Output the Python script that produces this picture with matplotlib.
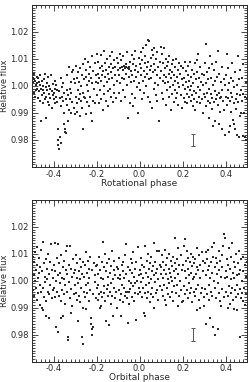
import matplotlib
matplotlib.use('Agg')
import matplotlib.pyplot as plt
from matplotlib.ticker import MultipleLocator, FormatStrFormatter

# phase of each measurement (same sampling used for both panels)
phase = [
    -0.499, -0.497, -0.495, -0.493, -0.491, -0.489, -0.487, -0.485, -0.483, -0.481, -0.479, -0.477, -0.475, -0.473, -0.471,
    -0.469, -0.467, -0.465, -0.463, -0.461, -0.459, -0.457, -0.455, -0.453, -0.451, -0.449, -0.447, -0.445, -0.443, -0.441,
    -0.439, -0.437, -0.435, -0.433, -0.431, -0.429, -0.427, -0.425, -0.423, -0.421, -0.419, -0.417, -0.415, -0.412, -0.409, -0.406, -0.403, -0.401,
    -0.399, -0.397, -0.395, -0.393, -0.391, -0.389, -0.387, -0.385, -0.383, -0.381, -0.379, -0.377, -0.375, -0.373, -0.371,
    -0.369, -0.367, -0.365, -0.363, -0.361, -0.359, -0.357, -0.355, -0.353, -0.351, -0.349, -0.347, -0.345, -0.343, -0.341,
    -0.339, -0.337, -0.335, -0.333, -0.331, -0.329, -0.327, -0.325, -0.323, -0.321, -0.319, -0.317, -0.315, -0.312, -0.309, -0.306, -0.303, -0.301,
    -0.299, -0.297, -0.295, -0.293, -0.291, -0.289, -0.287, -0.285, -0.283, -0.281, -0.279, -0.277, -0.275, -0.273, -0.271,
    -0.269, -0.267, -0.265, -0.263, -0.261, -0.259, -0.257, -0.255, -0.253, -0.251, -0.249, -0.247, -0.245, -0.243, -0.241,
    -0.239, -0.237, -0.235, -0.233, -0.231, -0.229, -0.227, -0.225, -0.223, -0.221, -0.219, -0.217, -0.215, -0.212, -0.209, -0.206, -0.203, -0.201,
    -0.199, -0.197, -0.195, -0.193, -0.191, -0.189, -0.187, -0.185, -0.183, -0.181, -0.179, -0.177, -0.175, -0.173, -0.171,
    -0.169, -0.167, -0.165, -0.163, -0.161, -0.159, -0.157, -0.155, -0.153, -0.151, -0.149, -0.147, -0.145, -0.143, -0.141,
    -0.139, -0.137, -0.135, -0.133, -0.131, -0.129, -0.127, -0.125, -0.123, -0.121, -0.119, -0.117, -0.115, -0.112, -0.109, -0.106, -0.103, -0.101,
    -0.099, -0.097, -0.095, -0.093, -0.091, -0.089, -0.087, -0.085, -0.083, -0.081, -0.079, -0.077, -0.075, -0.073, -0.071,
    -0.069, -0.067, -0.065, -0.063, -0.061, -0.059, -0.057, -0.055, -0.053, -0.051, -0.049, -0.047, -0.045, -0.043, -0.041,
    -0.039, -0.037, -0.035, -0.033, -0.031, -0.029, -0.027, -0.025, -0.023, -0.021, -0.019, -0.017, -0.015, -0.012, -0.009, -0.006, -0.004, -0.002,
    0.001, 0.003, 0.005, 0.007, 0.009, 0.011, 0.013, 0.015, 0.017, 0.019, 0.021, 0.023, 0.025, 0.027, 0.029,
    0.031, 0.033, 0.035, 0.037, 0.039, 0.041, 0.043, 0.045, 0.047, 0.049, 0.051, 0.053, 0.055, 0.057, 0.059,
    0.061, 0.063, 0.065, 0.067, 0.069, 0.071, 0.073, 0.075, 0.077, 0.079, 0.081, 0.083, 0.085, 0.088, 0.091, 0.094, 0.097, 0.099,
    0.101, 0.103, 0.105, 0.107, 0.109, 0.111, 0.113, 0.115, 0.117, 0.119, 0.121, 0.123, 0.125, 0.127, 0.129,
    0.131, 0.133, 0.135, 0.137, 0.139, 0.141, 0.143, 0.145, 0.147, 0.149, 0.151, 0.153, 0.155, 0.157, 0.159,
    0.161, 0.163, 0.165, 0.167, 0.169, 0.171, 0.173, 0.175, 0.177, 0.179, 0.181, 0.183, 0.185, 0.188, 0.191, 0.194, 0.197, 0.199,
    0.201, 0.203, 0.205, 0.207, 0.209, 0.211, 0.213, 0.215, 0.217, 0.219, 0.221, 0.223, 0.225, 0.227, 0.229,
    0.231, 0.233, 0.235, 0.237, 0.239, 0.241, 0.243, 0.245, 0.247, 0.249, 0.251, 0.253, 0.255, 0.257, 0.259,
    0.261, 0.263, 0.265, 0.267, 0.269, 0.271, 0.273, 0.275, 0.277, 0.279, 0.281, 0.283, 0.285, 0.288, 0.291, 0.294, 0.297, 0.299,
    0.301, 0.303, 0.305, 0.307, 0.309, 0.311, 0.313, 0.315, 0.317, 0.319, 0.321, 0.323, 0.325, 0.327, 0.329,
    0.331, 0.333, 0.335, 0.337, 0.339, 0.341, 0.343, 0.345, 0.347, 0.349, 0.351, 0.353, 0.355, 0.357, 0.359,
    0.361, 0.363, 0.365, 0.367, 0.369, 0.371, 0.373, 0.375, 0.377, 0.379, 0.381, 0.383, 0.385, 0.388, 0.391, 0.394, 0.397, 0.399,
    0.401, 0.403, 0.405, 0.407, 0.409, 0.411, 0.413, 0.415, 0.417, 0.419, 0.421, 0.423, 0.425, 0.427, 0.429,
    0.431, 0.433, 0.435, 0.437, 0.439, 0.441, 0.443, 0.445, 0.447, 0.449, 0.451, 0.453, 0.455, 0.457, 0.459,
    0.461, 0.463, 0.465, 0.467, 0.469, 0.471, 0.473, 0.475, 0.477, 0.479, 0.481, 0.483, 0.485, 0.488, 0.491, 0.494, 0.497, 0.499,
]

# relative flux folded on the rotation period
rot_flux = [
    0.9790, 1.0030, 1.0015, 0.9975, 1.0045, 1.0025, 0.9960, 1.0020, 1.0005, 0.9985, 1.0035, 1.0010, 0.9990, 1.0028, 0.9955,
    1.0015, 0.9980, 1.0040, 0.9945, 1.0005, 0.9990, 0.9870, 1.0020, 0.9965, 1.0000, 0.9935, 0.9985, 1.0025, 0.9975, 0.9950,
    1.0045, 0.9995, 0.9880, 0.9960, 1.0010, 0.9985, 0.9940, 1.0035, 0.9970, 0.9930, 1.0000, 0.9990, 0.9955, 1.0042, 0.9980, 0.9920, 1.0008, 0.9965,
    0.9975, 0.9950, 1.0020, 0.9990, 0.9935, 1.0005, 0.9960, 0.9940, 0.9985, 0.9840, 0.9800, 0.9780, 0.9765, 0.9980, 0.9810,
    0.9955, 0.9790, 1.0030, 0.9925, 0.9995, 0.9960, 0.9945, 1.0010, 0.9900, 0.9860, 0.9975, 0.9840, 0.9830, 0.9950, 0.9825,
    0.9985, 0.9930, 1.0040, 0.9870, 0.9965, 1.0070, 0.9910, 0.9990, 0.9950, 1.0015, 0.9900, 0.9975, 1.0050, 0.9940, 1.0060, 0.9920, 1.0025, 0.9895,
    1.0010, 0.9960, 1.0075, 0.9935, 1.0030, 0.9905, 0.9985, 1.0050, 0.9950, 1.0015, 0.9890, 1.0065, 0.9970, 1.0000, 0.9945,
    1.0040, 0.9920, 0.9840, 1.0080, 0.9975, 1.0025, 0.9960, 1.0100, 0.9955, 1.0035, 0.9895, 1.0060, 1.0005, 0.9940, 1.0090,
    0.9980, 1.0045, 0.9925, 1.0020, 1.0070, 0.9960, 1.0030, 0.9900, 0.9870, 1.0010, 1.0110, 0.9945, 1.0055, 0.9990, 1.0085, 0.9935, 1.0040, 1.0015,
    1.0120, 0.9965, 1.0045, 1.0010, 1.0090, 0.9935, 1.0030, 1.0065, 0.9985, 1.0115, 1.0020, 0.9950, 1.0075, 1.0040, 0.9910,
    1.0055, 1.0000, 1.0130, 0.9970, 1.0035, 1.0085, 0.9945, 1.0060, 1.0015, 1.0100, 0.9980, 1.0045, 0.9925, 1.0070, 1.0025,
    1.0110, 0.9990, 1.0050, 0.9960, 1.0080, 1.0030, 1.0125, 0.9940, 1.0065, 1.0005, 1.0095, 0.9975, 1.0040, 1.0070, 0.9955, 1.0105, 1.0020, 1.0060,
    1.0085, 0.9975, 1.0040, 1.0120, 1.0010, 1.0065, 0.9945, 1.0095, 1.0030, 1.0070, 1.0110, 0.9985, 1.0060, 1.0025, 1.0075,
    1.0065, 0.9960, 1.0080, 1.0045, 1.0070, 1.0125, 1.0005, 1.0068, 0.9880, 1.0072, 1.0035, 1.0062, 0.9935, 1.0090, 1.0015,
    1.0055, 1.0115, 0.9970, 1.0040, 1.0080, 0.9925, 1.0100, 1.0020, 1.0060, 0.9955, 1.0130, 1.0035, 1.0075, 0.9995, 1.0050, 0.9900, 1.0105, 1.0010,
    1.0080, 0.9985, 1.0125, 1.0040, 1.0065, 0.9950, 1.0095, 1.0020, 1.0140, 1.0055, 0.9975, 1.0085, 1.0035, 1.0110, 1.0150,
    1.0000, 1.0070, 1.0045, 0.9960, 1.0170, 1.0090, 1.0025, 1.0165, 1.0060, 0.9940, 1.0105, 1.0030, 1.0075, 1.0135, 0.9920,
    1.0050, 1.0115, 0.9990, 1.0080, 1.0140, 1.0010, 1.0060, 0.9965, 1.0100, 1.0040, 1.0125, 0.9945, 1.0070, 1.0005, 0.9870, 1.0090, 1.0030, 1.0145,
    1.0055, 0.9975, 1.0120, 1.0020, 1.0085, 0.9950, 1.0040, 1.0140, 1.0010, 1.0065, 0.9930, 1.0100, 1.0035, 0.9985, 1.0075,
    1.0015, 1.0090, 0.9960, 1.0045, 1.0110, 0.9995, 1.0060, 0.9910, 1.0030, 1.0080, 0.9970, 1.0050, 1.0005, 1.0095, 0.9940,
    1.0040, 0.9985, 1.0070, 1.0020, 0.9955, 1.0100, 1.0035, 0.9975, 1.0060, 1.0010, 0.9930, 1.0085, 0.9995, 1.0045, 0.9965, 1.0075, 0.9920, 1.0025,
    1.0005, 1.0065, 0.9955, 1.0030, 0.9990, 1.0090, 0.9940, 1.0015, 1.0055, 0.9970, 0.9935, 1.0040, 0.9995, 1.0075, 0.9960,
    1.0020, 0.9985, 1.0090, 0.9945, 1.0035, 1.0000, 0.9965, 1.0060, 0.9925, 1.0010, 1.0045, 0.9980, 0.9950, 1.0085, 0.9910,
    1.0025, 0.9975, 1.0095, 0.9940, 1.0050, 0.9995, 1.0120, 0.9960, 1.0030, 0.9935, 1.0070, 0.9985, 1.0015, 0.9950, 1.0045, 0.9900, 1.0005, 0.9970,
    1.0040, 0.9960, 1.0085, 0.9925, 1.0010, 1.0155, 0.9975, 1.0050, 0.9945, 1.0025, 0.9880, 0.9990, 1.0065, 0.9935, 1.0110,
    0.9970, 1.0030, 0.9915, 1.0080, 0.9955, 0.9850, 1.0005, 0.9940, 1.0060, 0.9980, 0.9870, 1.0020, 0.9950, 1.0090, 0.9965,
    1.0035, 0.9930, 1.0130, 0.9975, 0.9860, 1.0045, 0.9955, 0.9905, 1.0015, 0.9960, 0.9840, 1.0070, 0.9985, 0.9945, 1.0025, 0.9910, 0.9820, 1.0005,
    0.9960, 1.0040, 0.9930, 1.0120, 0.9985, 0.9955, 1.0065, 0.9830, 1.0010, 0.9945, 0.9850, 1.0030, 0.9975, 0.9905, 1.0085,
    0.9960, 0.9875, 1.0020, 0.9935, 0.9860, 0.9995, 0.9840, 1.0050, 0.9950, 0.9915, 1.0005, 0.9970, 0.9820, 1.0110, 0.9940,
    0.9810, 1.0025, 0.9965, 0.9890, 1.0060, 0.9900, 0.9985, 0.9945, 1.0030, 0.9815, 0.9970, 1.0080, 0.9900, 0.9960, 0.9810, 1.0015, 0.9800, 0.9950,
]

# relative flux folded on the orbital period
orb_flux = [
    1.0055, 0.9965, 1.0090, 1.0020, 0.9945, 1.0070, 1.0000, 1.0105, 0.9975, 1.0040, 1.0125, 0.9930, 1.0060, 1.0010, 0.9955,
    1.0085, 1.0030, 0.9910, 1.0050, 0.9985, 1.0115, 0.9960, 0.9900, 1.0035, 0.9890, 1.0145, 0.9975, 1.0065, 0.9940, 1.0015,
    0.9995, 1.0080, 0.9925, 0.9870, 1.0045, 1.0005, 0.9960, 1.0100, 0.9860, 1.0025, 0.9950, 1.0070, 0.9985, 1.0135, 0.9935, 1.0040, 0.9965, 1.0010,
    1.0060, 0.9975, 1.0035, 0.9940, 1.0140, 1.0000, 0.9830, 1.0085, 0.9960, 0.9810, 1.0020, 1.0135, 0.9945, 1.0065, 0.9990,
    1.0030, 0.9925, 1.0095, 0.9860, 1.0010, 0.9965, 1.0050, 0.9870, 1.0005, 0.9950, 1.0075, 0.9985, 0.9915, 1.0040, 1.0110,
    0.9960, 1.0025, 1.0130, 0.9790, 0.9780, 1.0060, 0.9995, 1.0130, 0.9935, 0.9880, 1.0045, 0.9970, 1.0015, 0.9905, 1.0080, 0.9950, 1.0030, 0.9985,
    1.0040, 0.9955, 1.0095, 1.0010, 0.9930, 1.0065, 0.9850, 0.9990, 1.0035, 0.9945, 1.0080, 1.0005, 0.9920, 1.0050, 0.9975,
    1.0025, 0.9790, 0.9765, 1.0070, 0.9900, 0.9960, 1.0015, 0.9940, 1.0060, 0.9985, 1.0105, 0.9895, 1.0030, 0.9955, 1.0075,
    0.9990, 1.0045, 0.9925, 1.0010, 1.0090, 0.9965, 0.9860, 0.9840, 0.9820, 0.9800, 1.0040, 0.9830, 0.9950, 1.0065, 0.9995, 1.0020, 0.9935, 1.0055,
    0.9975, 1.0060, 0.9930, 1.0025, 0.9985, 1.0090, 0.9950, 1.0040, 0.9900, 0.9905, 1.0010, 0.9960, 1.0070, 0.9940, 1.0145,
    1.0005, 0.9955, 1.0050, 0.9980, 1.0100, 0.9925, 0.9850, 1.0035, 0.9970, 1.0065, 0.9945, 1.0015, 0.9985, 0.9835, 1.0080,
    0.9960, 1.0030, 0.9915, 1.0055, 0.9990, 1.0110, 0.9945, 1.0005, 0.9870, 1.0040, 0.9975, 1.0075, 0.9935, 1.0020, 0.9960, 1.0050, 0.9900, 1.0010,
    1.0045, 0.9965, 1.0085, 0.9930, 1.0020, 1.0005, 0.9950, 0.9870, 1.0060, 0.9985, 1.0035, 0.9920, 1.0070, 0.9975, 1.0010,
    0.9945, 1.0095, 0.9960, 1.0135, 1.0025, 0.9935, 0.9960, 1.0050, 0.9845, 0.9960, 1.0000, 0.9915, 1.0040, 0.9970, 1.0080,
    0.9990, 1.0030, 0.9940, 1.0065, 0.9980, 1.0105, 0.9925, 1.0015, 0.9955, 1.0045, 0.9990, 1.0070, 0.9855, 1.0000, 0.9950, 1.0125, 1.0020, 0.9975,
    1.0040, 0.9960, 1.0085, 0.9995, 1.0025, 0.9940, 1.0060, 0.9975, 1.0010, 0.9880, 1.0050, 0.9955, 1.0130, 0.9870, 1.0030,
    0.9985, 1.0075, 0.9935, 1.0015, 1.0100, 0.9960, 1.0045, 0.9990, 1.0065, 0.9920, 1.0005, 1.0090, 0.9950, 1.0035, 0.9975,
    1.0055, 0.9940, 0.9900, 1.0020, 1.0140, 0.9995, 1.0070, 0.9955, 1.0030, 1.0110, 0.9965, 1.0045, 1.0005, 0.9930, 1.0110, 1.0060, 0.9980, 1.0025,
    1.0050, 0.9965, 1.0095, 1.0010, 0.9945, 1.0070, 0.9985, 1.0040, 1.0115, 0.9930, 0.9910, 1.0025, 1.0060, 0.9975, 1.0085,
    1.0005, 0.9950, 1.0045, 1.0100, 0.9990, 1.0030, 0.9940, 1.0075, 1.0015, 0.9960, 1.0055, 1.0000, 1.0090, 0.9925, 1.0035,
    0.9980, 1.0065, 1.0010, 1.0160, 0.9955, 1.0045, 0.9985, 1.0080, 1.0120, 0.9905, 1.0025, 0.9945, 1.0060, 1.0000, 1.0095, 0.9965, 1.0040, 0.9920,
    0.9925, 1.0060, 1.0130, 0.9980, 1.0035, 1.0155, 0.9950, 1.0075, 1.0010, 1.0110, 0.9965, 1.0045, 0.9935, 1.0085, 1.0020,
    0.9990, 1.0070, 0.9955, 1.0100, 1.0030, 0.9975, 1.0055, 0.9920, 1.0090, 1.0005, 0.9960, 1.0065, 1.0015, 0.9945, 1.0080,
    1.0025, 0.9970, 0.9890, 1.0050, 1.0120, 0.9985, 1.0040, 0.9930, 1.0095, 0.9900, 1.0060, 1.0010, 0.9955, 1.0105, 0.9975, 1.0035, 1.0075, 0.9940,
    0.9905, 1.0065, 0.9970, 1.0105, 1.0020, 0.9840, 1.0080, 0.9950, 1.0040, 1.0115, 0.9985, 1.0055, 0.9930, 1.0010, 0.9860,
    1.0070, 0.9960, 1.0125, 1.0030, 0.9945, 1.0090, 0.9830, 1.0000, 1.0140, 0.9800, 1.0050, 0.9975, 1.0085, 0.9935, 1.0025,
    1.0065, 0.9820, 0.9990, 1.0110, 0.9955, 1.0040, 1.0075, 0.9925, 1.0015, 0.9905, 1.0095, 0.9970, 1.0050, 1.0130, 0.9940, 1.0175, 1.0010, 1.0160,
    1.0035, 0.9960, 1.0080, 1.0015, 0.9945, 0.9900, 1.0060, 0.9980, 1.0120, 0.9915, 1.0045, 1.0005, 0.9955, 1.0090, 1.0140,
    0.9975, 1.0030, 0.9930, 1.0070, 1.0010, 0.9895, 1.0050, 0.9965, 1.0100, 0.9940, 1.0020, 0.9985, 0.9890, 1.0065, 0.9950,
    1.0025, 1.0110, 0.9970, 0.9790, 1.0040, 0.9935, 1.0080, 1.0000, 0.9955, 1.0090, 0.9925, 1.0035, 0.9975, 1.0060, 0.9910, 1.0015, 0.9950, 1.0070,
]

# typical error bar drawn in the lower right
err_x = 0.25
err_y = 0.98
err_size = 0.0023

panels = [(rot_flux, 'Rotational phase'), (orb_flux, 'Orbital phase')]
x_ticks = [-0.4, -0.2, 0.0, 0.2, 0.4]
y_ticks = [0.98, 0.99, 1.00, 1.01, 1.02]

plt.rcParams['font.family'] = 'DejaVu Sans'
ink = '#2a2a2a'

fig = plt.figure(figsize=(2.51, 3.82), dpi=100)
boxes = [[0.1275, 0.563, 0.857, 0.424], [0.1275, 0.0535, 0.857, 0.4230]]
pads = [(2.0, 0.5), (1.5, 0.0)]

for (flux, xlab), box, (tpad, lpad) in zip(panels, boxes, pads):
    ax = fig.add_axes(box)
    ax.scatter(phase, flux, s=2.2, marker='s', color=ink, linewidths=0)
    ax.errorbar([err_x], [err_y], yerr=err_size, fmt='none', ecolor='#555555',
                elinewidth=0.7, capsize=1.5, capthick=0.7)
    ax.set_xlim(-0.5, 0.5)
    ax.set_ylim(0.97, 1.03)
    ax.set_xticks(x_ticks)
    ax.set_yticks(y_ticks)
    ax.xaxis.set_major_formatter(FormatStrFormatter('%.1f'))
    ax.yaxis.set_major_formatter(FormatStrFormatter('%.2f'))
    ax.xaxis.set_minor_locator(MultipleLocator(0.02))
    ax.yaxis.set_minor_locator(MultipleLocator(0.001))
    ax.tick_params(which='both', direction='in', top=True, right=True,
                   colors=ink, labelsize=6, width=0.6)
    ax.tick_params(which='major', length=4)
    ax.tick_params(which='minor', length=2)
    ax.tick_params(axis='x', pad=tpad)
    ax.tick_params(axis='y', pad=2.5)
    for sp in ax.spines.values():
        sp.set_linewidth(0.7)
        sp.set_color(ink)
    ax.set_xlabel(xlab, fontsize=6.5, color=ink, labelpad=lpad)
    ax.set_ylabel('Relative flux', fontsize=6, color=ink, labelpad=1)

fig.savefig('out.png', dpi=100)
